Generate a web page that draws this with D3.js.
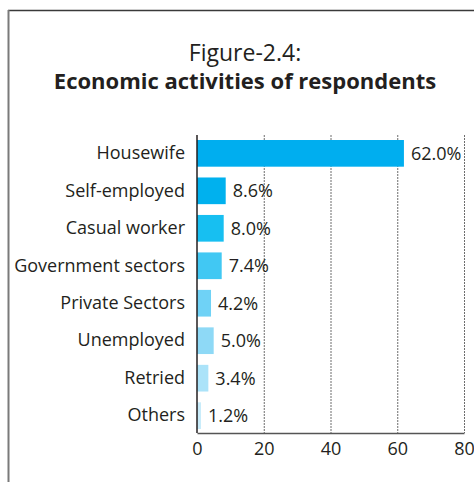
<!DOCTYPE html>
<html>
<head>
<meta charset="utf-8">
<script src="https://cdn.jsdelivr.net/npm/d3@7"></script>
<style>
  html, body { margin: 0; padding: 0; background: #fff; }
  svg { display: block; }
  text { font-family: "Open Sans", "Noto Sans", sans-serif; fill: #231f20; }
</style>
</head>
<body>
<svg id="chart" width="474" height="482"></svg>
<script>
// Economic activities of respondents (share, %)
const categories = ["Housewife", "Self-employed", "Casual worker", "Government sectors",
                    "Private Sectors", "Unemployed", "Retried", "Others"];
const values = [62.0, 8.6, 8.0, 7.4, 4.2, 5.0, 3.4, 1.2];
const barColors = ["#00aeef", "#00b1ee", "#17bff1", "#41c8f3", "#6fd2f6", "#8ed9f6", "#abe3f9", "#c9ecfa"];
const xTicks = [0, 20, 40, 60, 80];
const titleLine1 = "Figure-2.4:";
const titleLine2 = "Economic activities of respondents";

const svg = d3.select("#chart");

// outer frame (top and left edges)
svg.append("line").attr("x1", 8).attr("x2", 474).attr("y1", 10.5).attr("y2", 10.5)
  .attr("stroke", "#3a3a3a").attr("stroke-width", 1.5);
svg.append("line").attr("x1", 8.5).attr("x2", 8.5).attr("y1", 10).attr("y2", 482)
  .attr("stroke", "#7a7a7a").attr("stroke-width", 2);

// title
svg.append("text").attr("x", 245).attr("y", 61).attr("text-anchor", "middle")
  .style("font-size", "23px").text(titleLine1);
svg.append("text").attr("x", 245).attr("y", 89).attr("text-anchor", "middle")
  .style("font-size", "22px").style("font-weight", "bold").text(titleLine2);

const x = d3.scaleLinear().domain([0, 80]).range([197, 464]);
const y = d3.scaleBand().domain(categories).range([136, 433])
  .paddingInner(0.288).paddingOuter(0.107);

// dotted vertical gridlines
svg.append("g").selectAll("line").data(xTicks.slice(1)).join("line")
  .attr("x1", d => x(d) + 0.5).attr("x2", d => x(d) + 0.5)
  .attr("y1", 135).attr("y2", 433)
  .attr("stroke", "#6d6d6d").attr("stroke-width", 1).attr("stroke-dasharray", "2,1");

// bars
svg.append("g").selectAll("rect").data(values).join("rect")
  .attr("x", x(0))
  .attr("y", (d, i) => y(categories[i]))
  .attr("width", d => x(d) - x(0))
  .attr("height", y.bandwidth())
  .attr("fill", (d, i) => barColors[i]);

// value labels
svg.append("g").selectAll("text").data(values).join("text")
  .attr("x", d => x(d) + 7)
  .attr("y", (d, i) => y(categories[i]) + y.bandwidth() / 2)
  .attr("dy", "0.36em")
  .style("font-size", "18px")
  .text(d => d.toFixed(1) + "%");

// category axis
const yAxis = svg.append("g").attr("transform", `translate(${x(0)},0)`)
  .call(d3.axisLeft(y).tickSize(0).tickPadding(12));
yAxis.select(".domain").attr("stroke", "#231f20").attr("stroke-width", 1.5)
  .attr("d", "M0,135V433");
yAxis.selectAll("text").style("font-size", "18px").style("font-family", null);

// value axis
const xAxis = svg.append("g").attr("transform", "translate(0,433)")
  .call(d3.axisBottom(x).tickValues(xTicks).tickSize(0).tickPadding(9));
xAxis.select(".domain").attr("stroke", "#555").attr("stroke-width", 1.5);
xAxis.selectAll("text").style("font-size", "18px").style("font-family", null);
</script>
</body>
</html>
